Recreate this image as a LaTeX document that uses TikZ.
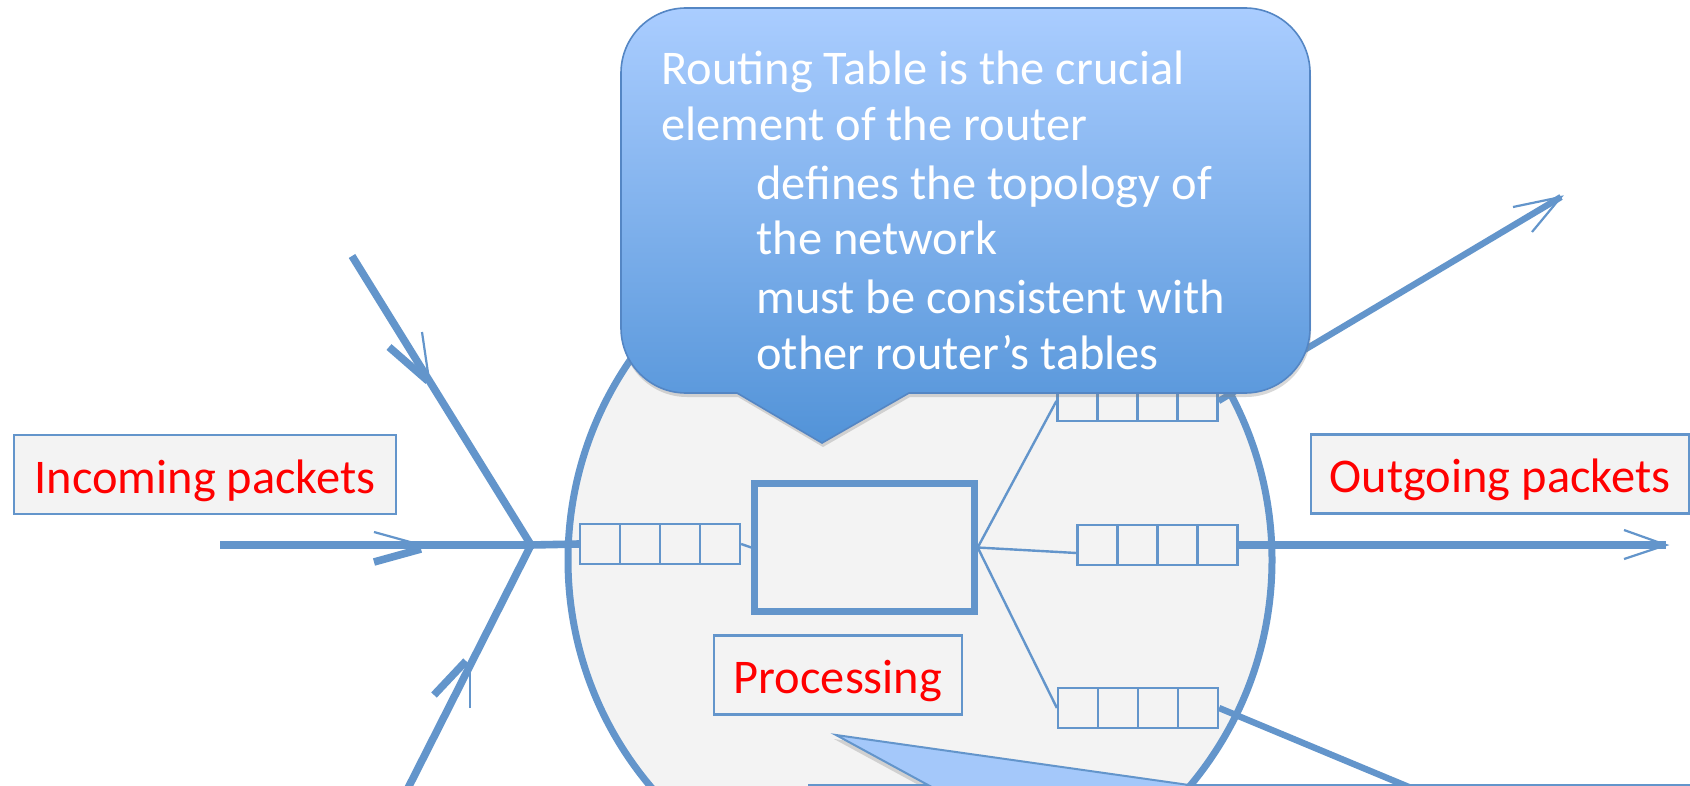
\documentclass[tikz,border=0pt]{standalone}
\usepackage{fontspec}
\setmainfont{Carlito}
\usetikzlibrary{calc,shadows}
\definecolor{lineblue}{RGB}{99,149,203}
\definecolor{panel}{RGB}{243,243,243}
\definecolor{calltop}{RGB}{170,205,255}
\definecolor{callbot}{RGB}{82,147,216}
\definecolor{callline}{RGB}{84,134,196}
\definecolor{noteblue}{RGB}{164,200,250}
\definecolor{labelred}{RGB}{255,0,0}
\pgfdeclarelayer{back}
\pgfdeclarelayer{wires}
\pgfsetlayers{back,wires,main}
\begin{document}
\begin{tikzpicture}[x=0.5pt, y=-0.5pt,
  every node/.style={font=\fontsize{24.2}{29}\selectfont},
  labelbox/.style={draw=lineblue, line width=1.3pt, fill=panel, text=labelred,
    inner xsep=0pt, inner ysep=0pt, text height=29pt, text depth=10.5pt},
  queue/.style={draw=lineblue, line width=1.1pt, fill=panel,
    minimum width=80pt, minimum height=20pt, inner sep=0pt,
    path picture={\foreach \f in {0.25,0.5,0.75}{
      \draw[lineblue, line width=1.1pt]
        ($(path picture bounding box.south west)!\f!(path picture bounding box.south east)$) --
        ($(path picture bounding box.north west)!\f!(path picture bounding box.north east)$);}}},
  pipe/.style={draw=lineblue, line width=3.8pt},
  thinpipe/.style={draw=lineblue, line width=3.2pt},
  link/.style={draw=lineblue, line width=1.2pt},
  barb/.style={draw=lineblue, line width=1.1pt},
  calltext/.style={text=white, anchor=base west, inner sep=0pt},
]
\useasboundingbox (0,0) rectangle (1690,786);
\clip (0,0) rectangle (1690,786);

% router body, the second note behind its rim, and the rim
\begin{pgfonlayer}{back}
  \fill[white] (0,0) rectangle (1690,786);
  \node[circle, fill=panel, minimum size=352pt, inner sep=0pt] (router) at (920,560) {};
  \path[draw=lineblue, line width=1pt, fill=noteblue,
        drop shadow={shadow xshift=-1pt, shadow yshift=-2pt, opacity=0.3}]
    (836,735) -- (928,785) -- (809,785) -- (809,900) -- (1720,900)
    -- (1720,785) -- (1189,785) -- cycle;
  \node[circle, draw=lineblue, line width=3.5pt, minimum size=352pt, inner sep=0pt] (rim) at (router) {};
\end{pgfonlayer}

% queues, routing table and labels
\node[queue] (qin)  at (660,544) {};
\node[queue] (qtop) at (1137.5,401) {};
\node[queue] (qmid) at (1157.5,545) {};
\node[queue] (qbot) at (1138,708) {};
\node[draw=lineblue, line width=3.2pt, fill=panel, minimum width=110pt,
      minimum height=64pt, inner sep=0pt] (table) at (864.5,547.5) {};
\node[labelbox, minimum width=191pt] (inlabel)   at (205,474.5) {Incoming packets};
\node[labelbox, minimum width=189pt] (outlabel)  at (1500,474)  {Outgoing packets};
\node[labelbox, minimum width=124pt] (proclabel) at (838,675)   {Processing};

% free ends of the links
\coordinate (inA)  at (352,256);
\coordinate (inB)  at (220,545);
\coordinate (inC)  at (402,800);
\coordinate (junc) at (531,545);
\coordinate (out1) at (1666,545);
\coordinate (out2) at (1561,197);
\coordinate (out3) at (1440,800);

\begin{pgfonlayer}{wires}
  % incoming links
  \draw[pipe] (inA) -- (junc) -- (qin.west);
  \draw[pipe] (inB) -- (junc);
  \draw[pipe] (inC) -- (junc);
  \draw[barb] (374,532) -- (421,545);
  \draw[pipe] (374,562) -- (421,549);
  \draw[barb] (422,332) -- (428,373);
  \draw[pipe] (389,347) -- (428,381);
  \draw[barb] (470,708) -- (470,668);
  \draw[pipe] (434,695) -- (466,661);
  % inside the router
  \draw[link] (qin.east) -- (table.west);
  \draw[link] (table.east) -- (qtop.west);
  \draw[link] (table.east) -- ([yshift=-4pt]qmid.west);
  \draw[link] (table.east) -- (qbot.west);
  % outgoing links
  \draw[pipe] (qmid.east) -- (out1);
  \draw[barb] ($(out1)+(-42,-15)$) -- (out1) -- ($(out1)+(-42,14)$);
  \draw[thinpipe] (qtop.east) -- (out2);
  \draw[barb] ($(out2)+(-48,10)$) -- (out2) -- ($(out2)+(-29,35)$);
  \draw[thinpipe] (qbot.east) -- (out3);
\end{pgfonlayer}

% routing table note
\path[draw=callline, line width=0.8pt, top color=calltop, bottom color=callbot,
      drop shadow={shadow xshift=0.5pt, shadow yshift=-2pt, opacity=0.3}]
  (909,393) -- (1245,393) arc[start angle=270, end angle=360, radius=32.5pt]
  -- (1310,73) arc[start angle=0, end angle=90, radius=32.5pt]
  -- (686,8) arc[start angle=90, end angle=180, radius=32.5pt]
  -- (621,328) arc[start angle=180, end angle=270, radius=32.5pt]
  -- (737,393) -- (822,443) -- cycle;
\node[calltext] (rt1) at (661,85)  {Routing Table is the crucial};
\node[calltext] (rt2) at (661,141) {element of the router};
\node[calltext] (rt3) at (756,199) {defines the topology of};
\node[calltext] (rt4) at (756,255) {the network};
\node[calltext] (rt5) at (756,313) {must be consistent with};
\node[calltext] (rt6) at (756,369) {other router’s tables};
\end{tikzpicture}
\end{document}
